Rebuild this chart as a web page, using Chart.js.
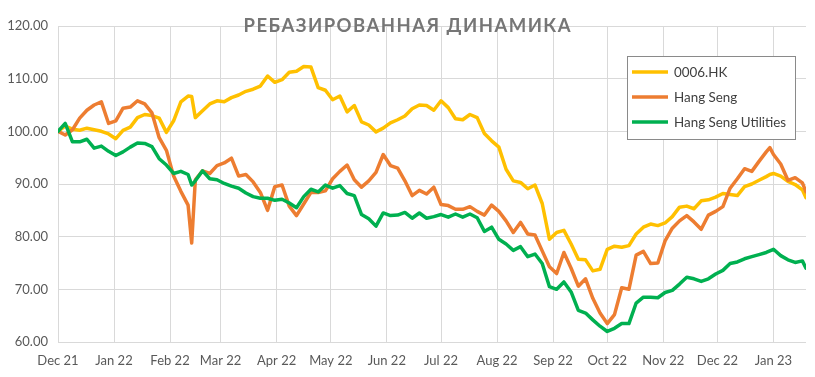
<!DOCTYPE html>
<html>
<head>
<meta charset="utf-8">
<script src="https://cdn.jsdelivr.net/npm/chart.js@4.4.1/dist/chart.umd.min.js"></script>
<style>
  html, body { margin: 0; padding: 0; background: #ffffff; }
  canvas { display: block; }
</style>
</head>
<body>
<canvas id="chart" width="815" height="377"></canvas>
<script>
// Sample dates (every ~4 days)
const dates = [
  '2021-12-01', '2021-12-05', '2021-12-09', '2021-12-13', '2021-12-17', '2021-12-21', '2021-12-25', '2021-12-29',
  '2022-01-02', '2022-01-06', '2022-01-10', '2022-01-14', '2022-01-18', '2022-01-22', '2022-01-26', '2022-01-30',
  '2022-02-03', '2022-02-07', '2022-02-11', '2022-02-13', '2022-02-15', '2022-02-19', '2022-02-23', '2022-02-27',
  '2022-03-03', '2022-03-07', '2022-03-11', '2022-03-15', '2022-03-19', '2022-03-23', '2022-03-27', '2022-03-31',
  '2022-04-04', '2022-04-08', '2022-04-12', '2022-04-16', '2022-04-20', '2022-04-24', '2022-04-28',
  '2022-05-02', '2022-05-06', '2022-05-10', '2022-05-14', '2022-05-18', '2022-05-22', '2022-05-26', '2022-05-30',
  '2022-06-03', '2022-06-07', '2022-06-11', '2022-06-15', '2022-06-19', '2022-06-23', '2022-06-27',
  '2022-07-01', '2022-07-05', '2022-07-09', '2022-07-13', '2022-07-17', '2022-07-21', '2022-07-25', '2022-07-29',
  '2022-08-02', '2022-08-06', '2022-08-10', '2022-08-14', '2022-08-18', '2022-08-22', '2022-08-26', '2022-08-30',
  '2022-09-03', '2022-09-07', '2022-09-11', '2022-09-15', '2022-09-19', '2022-09-23', '2022-09-27',
  '2022-10-01', '2022-10-05', '2022-10-09', '2022-10-13', '2022-10-17', '2022-10-21', '2022-10-25', '2022-10-29',
  '2022-11-02', '2022-11-06', '2022-11-10', '2022-11-14', '2022-11-18', '2022-11-22', '2022-11-26', '2022-11-30',
  '2022-12-04', '2022-12-08', '2022-12-12', '2022-12-16', '2022-12-20', '2022-12-24', '2022-12-28', '2022-12-30',
  '2023-01-01', '2023-01-05', '2023-01-09', '2023-01-13', '2023-01-17', '2023-01-19'
];

// 0006.HK
const stockValues = [
  100, 101.0, 100.4, 100.2, 100.6, 100.3, 100.0, 99.5,
  98.6, 100.2, 100.8, 102.6, 103.2, 103.0, 102.5, 99.8,
  102.0, 105.6, 106.7, 106.6, 102.6, 103.9, 105.2, 105.8,
  105.6, 106.4, 106.9, 107.6, 108.0, 108.6, 110.5, 109.3,
  109.8, 111.2, 111.4, 112.3, 112.2, 108.3, 107.8,
  106.0, 106.7, 103.7, 104.9, 101.8, 101.2, 99.9, 100.6,
  101.6, 102.2, 102.9, 104.3, 105.0, 104.9, 104.0,
  105.8, 104.5, 102.4, 102.2, 103.2, 102.6, 99.6, 98.2,
  97.0, 92.8, 90.6, 90.3, 89.1, 89.8, 86.3, 79.5,
  80.8, 81.2, 78.6, 75.7, 75.6, 73.5, 73.8,
  77.6, 78.2, 78.0, 78.3, 80.5, 81.8, 82.4, 82.1,
  82.6, 83.8, 85.6, 85.8, 85.3, 86.8, 87.0, 87.5,
  88.2, 88.0, 87.8, 89.5, 90.0, 90.7, 91.4, 91.8,
  92.0, 91.5, 90.5, 89.9, 88.9, 87.4
];

// Hang Seng
const hsiValues = [
  100, 99.3, 100.3, 102.5, 104.0, 105.0, 105.6, 101.5,
  102.0, 104.4, 104.6, 105.8, 105.2, 103.5, 98.8, 96.4,
  91.5, 88.6, 86.0, 78.8, 90.8, 92.5, 92.0, 93.5,
  94.0, 94.9, 91.5, 91.8, 90.4, 88.4, 85.0, 89.5,
  89.8, 85.8, 84.0, 86.2, 88.4, 88.4, 88.7,
  91.0, 92.4, 93.6, 90.8, 89.4, 90.6, 92.2, 95.6,
  93.5, 93.0, 90.6, 87.8, 88.8, 88.1, 89.4,
  86.1, 85.9, 85.2, 85.2, 85.7, 84.8, 84.1, 86.0,
  84.8, 83.0, 80.8, 82.7, 80.5, 80.3, 77.3, 74.3,
  73.0, 77.0, 74.0, 70.6, 72.0, 68.3, 65.5,
  63.5, 65.2, 70.3, 70.0, 76.5, 77.2, 74.9, 75.0,
  79.2, 81.6, 83.0, 84.0, 82.8, 81.4, 84.1, 84.8,
  85.7, 89.2, 91.0, 92.9, 92.4, 94.3, 96.1, 96.9,
  95.6, 93.8, 90.7, 91.2, 90.2, 88.5
];

// Hang Seng Utilities
const utilValues = [
  100, 101.5, 98.0, 98.0, 98.5, 96.8, 97.2, 96.2,
  95.4, 96.1, 97.0, 97.8, 97.7, 97.1, 94.8, 93.6,
  92.0, 92.4, 91.8, 89.8, 90.6, 92.5, 91.0, 90.8,
  90.1, 89.6, 89.2, 88.3, 87.6, 87.3, 87.3, 86.9,
  87.1, 86.4, 85.5, 87.6, 89.0, 88.5, 89.8,
  89.2, 89.7, 88.2, 87.8, 84.2, 83.4, 82.0, 84.5,
  84.0, 84.1, 84.6, 83.5, 84.5, 83.5, 83.8,
  84.2, 83.7, 84.3, 83.7, 84.3, 83.6, 81.0, 81.8,
  79.5, 78.6, 77.4, 78.1, 76.2, 76.7, 74.9, 70.5,
  70.0, 71.4, 69.5, 66.0, 65.5, 64.2, 63.0,
  62.0, 62.6, 63.5, 63.5, 67.4, 68.5, 68.5, 68.4,
  69.4, 69.8, 71.0, 72.3, 72.0, 71.5, 72.0, 72.9,
  73.6, 74.9, 75.2, 75.8, 76.2, 76.6, 77.0, 77.3,
  77.6, 76.4, 75.6, 75.1, 75.4, 74.0
];

const seriesNames = ['0006.HK', 'Hang Seng', 'Hang Seng Utilities'];
const seriesColors = ['#FFC000', '#ED7D31', '#00B050'];

// Monthly x-axis ticks
const tickDates = [
  '2021-12-01', '2022-01-01', '2022-02-01', '2022-03-01', '2022-04-01', '2022-05-01', '2022-06-01',
  '2022-07-01', '2022-08-01', '2022-09-01', '2022-10-01', '2022-11-01', '2022-12-01', '2023-01-01'
];
const tickLabels = [
  'Dec 21', 'Jan 22', 'Feb 22', 'Mar 22', 'Apr 22', 'May 22', 'Jun 22',
  'Jul 22', 'Aug 22', 'Sep 22', 'Oct 22', 'Nov 22', 'Dec 22', 'Jan 23'
];

const chartTitle = 'РЕБАЗИРОВАННАЯ ДИНАМИКА';

// Helper: date string -> day number from the first date
const startMs = Date.parse(dates[0]);
function toDay(d) {
    return Math.round((Date.parse(d) - startMs) / 86400000);
}

const days = dates.map(toDay);
const tickDays = tickDates.map(toDay);

function toPoints(values) {
    return values.map((v, i) => ({ x: days[i], y: v }));
}

// Title and boxed legend drawn over the plot, like the Excel original
const overlayPlugin = {
    id: 'overlay',
    afterDraw(chart) {
        const ctx = chart.ctx;
        ctx.save();

        // title
        ctx.font = 'bold 18.5px Lato';
        ctx.fillStyle = '#767676';
        ctx.textBaseline = 'alphabetic';
        ctx.textAlign = 'left';
        const plainWidth = ctx.measureText(chartTitle).width;
        const spacing = Math.max(0, (327 - plainWidth) / (chartTitle.length - 1));
        ctx.letterSpacing = spacing + 'px';
        const fullWidth = ctx.measureText(chartTitle).width - spacing;
        ctx.fillText(chartTitle, 407 - fullWidth / 2, 31.5);
        ctx.letterSpacing = '0px';

        // legend box
        ctx.fillStyle = '#ffffff';
        ctx.fillRect(627, 56, 168, 83);
        ctx.strokeStyle = '#8a8a8a';
        ctx.lineWidth = 1;
        ctx.strokeRect(627.5, 56.5, 168, 83);

        ctx.font = '13.4px Lato';
        ctx.fillStyle = '#404040';
        chart.data.datasets.forEach((ds, i) => {
            const y = 72 + i * 25;
            ctx.strokeStyle = ds.borderColor;
            ctx.lineWidth = 3.5;
            ctx.lineCap = 'butt';
            ctx.beginPath();
            ctx.moveTo(632, y);
            ctx.lineTo(668, y);
            ctx.stroke();
            ctx.fillText(ds.label, 674, y + 5);
        });

        ctx.restore();
    }
};

const tickFont = { family: 'Lato', size: 13 };

new Chart(document.getElementById('chart'), {
    type: 'line',
    data: {
        datasets: [
            {
                label: seriesNames[0],
                data: toPoints(stockValues),
                borderColor: seriesColors[0],
                backgroundColor: seriesColors[0],
                borderWidth: 3.5,
                order: 3,
            },
            {
                label: seriesNames[1],
                data: toPoints(hsiValues),
                borderColor: seriesColors[1],
                backgroundColor: seriesColors[1],
                borderWidth: 3.5,
                order: 2,
            },
            {
                label: seriesNames[2],
                data: toPoints(utilValues),
                borderColor: seriesColors[2],
                backgroundColor: seriesColors[2],
                borderWidth: 3.5,
                order: 1,
            },
        ],
    },
    options: {
        responsive: false,
        animation: false,
        devicePixelRatio: 1,
        layout: {
            padding: { top: 26, right: 9, bottom: 0, left: 0 },
        },
        elements: {
            point: { radius: 0, hoverRadius: 0 },
            line: { tension: 0, borderJoinStyle: 'round', borderCapStyle: 'round' },
        },
        plugins: {
            legend: { display: false },
            title: { display: false },
            tooltip: { enabled: false },
        },
        scales: {
            x: {
                type: 'linear',
                min: 0,
                max: days[days.length - 1],
                afterBuildTicks: (scale) => {
                    scale.ticks = tickDays.map(v => ({ value: v }));
                },
                afterFit: (scale) => {
                    scale.height = 35;
                },
                grid: { color: '#d9d9d9', drawTicks: false },
                border: { display: false },
                ticks: {
                    autoSkip: false,
                    maxRotation: 0,
                    minRotation: 0,
                    padding: 11,
                    color: '#595959',
                    font: tickFont,
                    callback: (value, index) => tickLabels[index],
                },
            },
            y: {
                min: 60,
                max: 120,
                afterFit: (scale) => {
                    scale.width = 58;
                },
                grid: { color: '#d9d9d9', drawTicks: false },
                border: { display: false },
                ticks: {
                    stepSize: 10,
                    padding: 10,
                    color: '#595959',
                    font: tickFont,
                    callback: (value) => value.toFixed(2),
                },
            },
        },
    },
    plugins: [overlayPlugin],
});
</script>
</body>
</html>
